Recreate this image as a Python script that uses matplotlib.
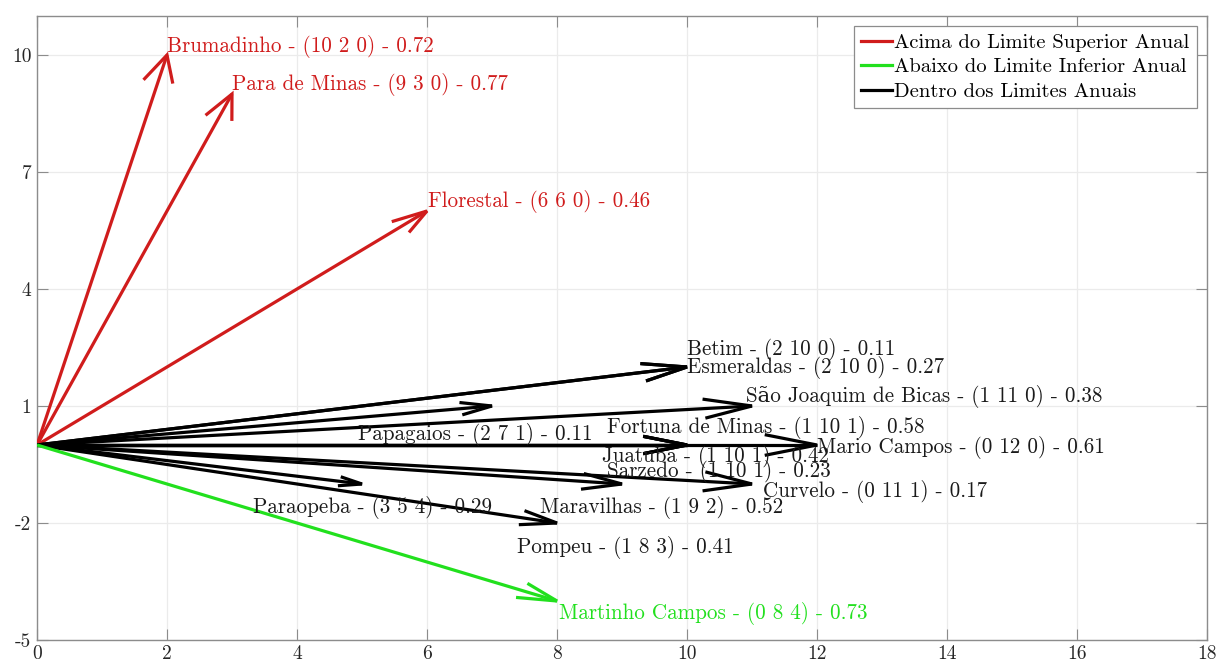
import numpy as np
import matplotlib
matplotlib.use("Agg")
import matplotlib.pyplot as plt
from matplotlib.lines import Line2D

plt.rcParams['font.family'] = ['cmr10', 'DejaVu Serif']
plt.rcParams['axes.unicode_minus'] = False
plt.rcParams['mathtext.fontset'] = 'cm'

# ---- data ----
names = ["Brumadinho", "Para de Minas", "Florestal", "Betim", "Esmeraldas",
         "São Joaquim de Bicas", "Fortuna de Minas", "Papagaios", "Mario Campos",
         "Juatuba", "Sarzedo", "Curvelo", "Paraopeba", "Maravilhas", "Pompeu",
         "Martinho Campos"]
above = [10, 9, 6, 2, 2, 1, 1, 2, 0, 1, 1, 0, 3, 1, 1, 0]
within = [2, 3, 6, 10, 10, 11, 10, 7, 12, 10, 10, 11, 5, 9, 8, 8]
below = [0, 0, 0, 0, 0, 0, 1, 1, 0, 1, 1, 1, 4, 2, 3, 4]
scores = [0.72, 0.77, 0.46, 0.11, 0.27, 0.38, 0.58, 0.11, 0.61, 0.42, 0.23,
          0.17, 0.29, 0.52, 0.41, 0.73]
group = ["acima", "acima", "acima", "dentro", "dentro", "dentro", "dentro",
         "dentro", "dentro", "dentro", "dentro", "dentro", "dentro", "dentro",
         "dentro", "abaixo"]
# label anchor positions (left, baseline)
label_x = [2.0, 3.0, 6.02, 10.0, 10.0, 10.9, 8.77, 4.94, 12.0, 8.69, 8.77,
           11.17, 3.32, 7.74, 7.38, 8.03]
label_y = [10.08, 9.10, 6.10, 2.31, 1.85, 1.10, 0.31, 0.13, -0.21, -0.44,
           -0.82, -1.33, -1.74, -1.74, -2.77, -4.46]

legend_labels = {"acima": "Acima do Limite Superior Anual",
                 "abaixo": "Abaixo do Limite Inferior Anual",
                 "dentro": "Dentro dos Limites Anuais"}
colors = {"acima": "#D01C1C", "abaixo": "#22E01E", "dentro": "#000000"}

x_ticks = list(range(0, 19, 2))
y_ticks = [-5, -2, 1, 4, 7, 10]

# ---- figure ----
fig = plt.figure(figsize=(12.18, 6.65), dpi=100)
ax = fig.add_axes([37 / 1218, 25 / 665, 1170 / 1218, 624 / 665])
ax.set_xlim(0, 18)
ax.set_ylim(-5, 11)
ax.set_xticks(x_ticks)
ax.set_yticks(y_ticks)
ax.grid(True, color="#EBEBEB", linewidth=0.9)
ax.set_axisbelow(True)
for s in ax.spines.values():
    s.set_color("#8C8C8C")
    s.set_linewidth(1.0)
ax.tick_params(direction="in", length=8, width=0.8, color="#8C8C8C",
               labelsize=14, labelcolor="#262626", top=True, right=True, pad=4)

alpha, beta = 0.065, 0.33
lw = 2.3
for i in range(len(names)):
    u = within[i]
    v = above[i] - below[i]
    c = colors[group[i]]
    ax.plot([0, u], [0, v], color=c, lw=lw, solid_capstyle="butt", zorder=3)
    hx = [u - alpha * (u + beta * v), u, u - alpha * (u - beta * v)]
    hy = [v - alpha * (v - beta * u), v, v - alpha * (v + beta * u)]
    ax.plot(hx, hy, color=c, lw=lw, solid_joinstyle="miter", zorder=3)
    ax.text(label_x[i], label_y[i],
            f"{names[i]} - ({above[i]} {within[i]} {below[i]}) - {scores[i]:.2f}",
            color=c if group[i] != "dentro" else "#1A1A1A",
            fontsize=15.2, ha="left", va="baseline", zorder=4)

handles = [Line2D([0], [0], color=colors[k], lw=2.3) for k in ["acima", "abaixo", "dentro"]]
leg = ax.legend(handles, [legend_labels[k] for k in ["acima", "abaixo", "dentro"]],
                loc="upper right", fontsize=14.8, handlelength=1.5, handletextpad=0.1,
                borderaxespad=0.5, borderpad=0.35, labelspacing=0.3, fancybox=False,
                framealpha=1.0, edgecolor="#8C8C8C")
leg.get_frame().set_linewidth(0.9)

fig.savefig("out.png", dpi=100)
